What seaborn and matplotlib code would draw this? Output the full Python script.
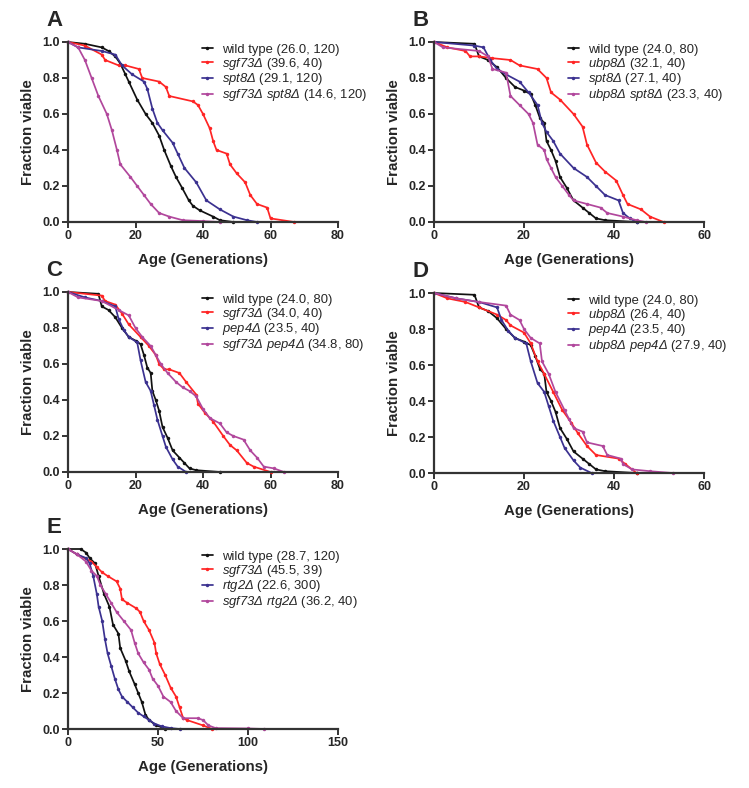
import matplotlib
matplotlib.use("Agg")
import matplotlib.pyplot as plt
import seaborn as sns

sns.set_style("ticks")
plt.rcParams["font.family"] = ["Liberation Sans", "DejaVu Sans"]
# gene names go through mathtext; make every math glyph italic
plt.rcParams["mathtext.fontset"] = "custom"
plt.rcParams["mathtext.rm"] = "Liberation Sans:italic"
plt.rcParams["mathtext.it"] = "Liberation Sans:italic"
plt.rcParams["mathtext.bf"] = "Liberation Sans:bold"

# --- colours of the four strains in each panel ---
col_wt = "#111111"
col_red = "#ff2424"
col_blue = "#3b3190"
col_purple = "#b1479c"

# --- panel A ---
a_wt_age = [0, 5, 10, 12, 14, 15.5, 17, 18, 20.5, 23, 25, 27, 28.5, 30.5, 32, 33.8, 35.8, 37, 39, 43, 45, 49]
a_wt_frac = [1.0, 0.99, 0.97, 0.95, 0.92, 0.88, 0.82, 0.78, 0.68, 0.60, 0.55, 0.48, 0.40, 0.31, 0.25, 0.19, 0.12, 0.09, 0.065, 0.03, 0.01, 0.0]
a_sgf_age = [0, 5, 10, 11, 15, 17, 21, 22, 27, 29, 30, 37, 38.5, 40, 42, 43, 44, 47, 48, 50, 52.5, 54, 56, 59, 60, 67]
a_sgf_frac = [1.0, 0.98, 0.93, 0.90, 0.87, 0.87, 0.85, 0.80, 0.78, 0.75, 0.70, 0.67, 0.65, 0.60, 0.52, 0.45, 0.40, 0.38, 0.32, 0.27, 0.22, 0.15, 0.10, 0.08, 0.02, 0.0]
a_spt_age = [0, 3, 10, 14, 16, 19, 22.5, 23.5, 25, 26.5, 28, 31, 32.5, 34.5, 38, 41, 45, 49, 53, 56]
a_spt_frac = [1.0, 0.97, 0.95, 0.93, 0.87, 0.82, 0.78, 0.74, 0.63, 0.55, 0.51, 0.44, 0.38, 0.30, 0.22, 0.12, 0.07, 0.03, 0.01, 0.0]
a_dbl_age = [0, 3, 5, 7, 9, 11.5, 13, 14.5, 15.5, 18.5, 20.5, 22.5, 24.5, 27, 30, 34, 40, 45]
a_dbl_frac = [1.0, 0.97, 0.90, 0.80, 0.70, 0.60, 0.51, 0.40, 0.32, 0.25, 0.20, 0.15, 0.10, 0.05, 0.03, 0.01, 0.005, 0.0]

# --- wild type (24.0, 80) and pep4 (23.5, 40), shared by B, C, D ---
wt80_age = [0, 9, 10, 12, 14, 16, 18, 20, 21.5, 22.5, 23.5, 24.5, 25, 26, 27, 28, 29.5, 31, 33, 34.5, 36, 38, 45]
wt80_frac = [1.0, 0.99, 0.92, 0.90, 0.86, 0.80, 0.75, 0.73, 0.71, 0.65, 0.58, 0.55, 0.45, 0.40, 0.34, 0.25, 0.19, 0.12, 0.08, 0.05, 0.02, 0.01, 0.0]
pep_age = [0, 5, 10, 14, 15, 16.5, 18, 20.5, 21.5, 23, 24.5, 25.5, 26.5, 28, 29, 31, 32.5, 35]
pep_frac = [1.0, 0.97, 0.95, 0.92, 0.85, 0.79, 0.75, 0.72, 0.62, 0.50, 0.45, 0.37, 0.29, 0.20, 0.14, 0.07, 0.03, 0.0]

# --- panel B ---
b_ubp_age = [0, 3, 7, 8, 10, 13, 17, 19, 23, 25, 26, 28, 31, 33, 34, 36, 38, 40.5, 42, 43, 46, 48, 51]
b_ubp_frac = [1.0, 0.97, 0.95, 0.92, 0.92, 0.91, 0.90, 0.87, 0.85, 0.80, 0.72, 0.68, 0.60, 0.53, 0.43, 0.33, 0.28, 0.23, 0.15, 0.10, 0.07, 0.03, 0.0]
b_spt_age = [0, 9, 11, 12.5, 14, 16, 19, 21, 23, 24, 25, 26.5, 28, 31, 34, 36, 38, 41, 42, 43.5, 45]
b_spt_frac = [1.0, 0.98, 0.97, 0.90, 0.85, 0.82, 0.78, 0.72, 0.65, 0.55, 0.50, 0.45, 0.38, 0.30, 0.25, 0.20, 0.15, 0.12, 0.05, 0.02, 0.0]
b_dbl_age = [0, 2, 10, 12, 13, 16, 17, 19, 21, 22, 23, 24.5, 25, 26, 27, 28.5, 30, 31, 34, 37, 38.5, 42, 45, 47]
b_dbl_frac = [1.0, 0.97, 0.95, 0.92, 0.85, 0.83, 0.70, 0.65, 0.60, 0.55, 0.43, 0.40, 0.35, 0.30, 0.25, 0.20, 0.15, 0.12, 0.10, 0.08, 0.05, 0.03, 0.01, 0.0]

# --- panel C ---
c_sgf_age = [0, 10, 11, 14, 16, 18, 21.5, 24, 26, 27, 28.5, 30, 33, 35, 38, 38.5, 40.5, 43, 46, 48, 50, 53, 55, 60]
c_sgf_frac = [1.0, 0.98, 0.95, 0.93, 0.88, 0.82, 0.75, 0.70, 0.65, 0.60, 0.57, 0.57, 0.55, 0.50, 0.43, 0.38, 0.33, 0.28, 0.20, 0.15, 0.12, 0.05, 0.03, 0.0]
c_dbl_age = [0, 3, 10, 15, 18, 20, 22, 24.5, 26, 27.5, 29.5, 32, 34, 36, 38, 40, 42, 45, 47, 49, 52, 54, 56, 58, 61, 64]
c_dbl_frac = [1.0, 0.97, 0.95, 0.90, 0.87, 0.80, 0.75, 0.70, 0.65, 0.60, 0.55, 0.50, 0.47, 0.45, 0.42, 0.35, 0.30, 0.27, 0.22, 0.20, 0.18, 0.12, 0.08, 0.03, 0.02, 0.0]

# --- panel D ---
d_ubp_age = [0, 3, 7, 10, 14, 16, 17, 20, 21.5, 23, 24.5, 26.5, 28.5, 30.5, 32, 34, 36, 41, 42.5, 45]
d_ubp_frac = [1.0, 0.97, 0.95, 0.92, 0.88, 0.85, 0.82, 0.78, 0.72, 0.62, 0.55, 0.45, 0.35, 0.28, 0.22, 0.15, 0.10, 0.08, 0.05, 0.0]
d_dbl_age = [0, 5, 10, 16, 17, 19, 20, 21.5, 23.5, 24, 25.5, 27, 29, 30, 31, 33, 34, 37.5, 38.5, 41.5, 42, 44, 48, 53]
d_dbl_frac = [1.0, 0.97, 0.95, 0.93, 0.88, 0.85, 0.80, 0.75, 0.72, 0.62, 0.55, 0.45, 0.35, 0.30, 0.25, 0.23, 0.17, 0.15, 0.10, 0.08, 0.05, 0.02, 0.01, 0.0]

# --- panel E ---
e_wt_age = [0, 7, 10, 12, 15, 17, 20, 23, 25, 28, 29, 32, 34, 37, 39, 41, 43, 45, 49, 52, 54]
e_wt_frac = [1.0, 1.0, 0.98, 0.95, 0.92, 0.85, 0.75, 0.68, 0.58, 0.53, 0.45, 0.38, 0.32, 0.25, 0.20, 0.15, 0.08, 0.05, 0.02, 0.01, 0.0]
e_sgf_age = [0, 5, 13, 16, 19, 22, 27, 29, 30, 33, 38, 40, 42, 45, 48, 49, 51, 54, 57, 60, 62, 64, 66, 75, 80]
e_sgf_frac = [1.0, 0.97, 0.93, 0.90, 0.87, 0.85, 0.82, 0.78, 0.72, 0.70, 0.67, 0.65, 0.60, 0.55, 0.48, 0.42, 0.36, 0.30, 0.23, 0.18, 0.12, 0.06, 0.05, 0.02, 0.0]
e_rtg_age = [0, 5, 10, 12, 14, 16, 17, 19, 20.5, 22, 24, 26, 28, 30, 33, 36, 39, 42, 45, 48, 52, 57, 62]
e_rtg_frac = [1.0, 0.97, 0.95, 0.92, 0.85, 0.75, 0.68, 0.60, 0.50, 0.42, 0.35, 0.28, 0.22, 0.18, 0.15, 0.12, 0.09, 0.07, 0.05, 0.03, 0.015, 0.005, 0.0]
e_dbl_age = [0, 5, 10, 13, 16, 18, 21, 24, 27, 31, 35, 37, 39, 42, 45, 47, 50, 53, 57, 60, 64, 72, 75, 78, 82, 100, 109]
e_dbl_frac = [1.0, 0.97, 0.93, 0.88, 0.85, 0.80, 0.75, 0.70, 0.65, 0.60, 0.55, 0.48, 0.42, 0.37, 0.33, 0.28, 0.24, 0.18, 0.15, 0.10, 0.06, 0.06, 0.05, 0.02, 0.005, 0.003, 0.0]

# legend labels (gene names italic)
a_labels = ["wild type (26.0, 120)", r"$\mathrm{sgf73Δ}$ (39.6, 40)",
            r"$\mathrm{spt8Δ}$ (29.1, 120)", r"$\mathrm{sgf73Δ\ spt8Δ}$ (14.6, 120)"]
b_labels = ["wild type (24.0, 80)", r"$\mathrm{ubp8Δ}$ (32.1, 40)",
            r"$\mathrm{spt8Δ}$ (27.1, 40)", r"$\mathrm{ubp8Δ\ spt8Δ}$ (23.3, 40)"]
c_labels = ["wild type (24.0, 80)", r"$\mathrm{sgf73Δ}$ (34.0, 40)",
            r"$\mathrm{pep4Δ}$ (23.5, 40)", r"$\mathrm{sgf73Δ\ pep4Δ}$ (34.8, 80)"]
d_labels = ["wild type (24.0, 80)", r"$\mathrm{ubp8Δ}$ (26.4, 40)",
            r"$\mathrm{pep4Δ}$ (23.5, 40)", r"$\mathrm{ubp8Δ\ pep4Δ}$ (27.9, 40)"]
e_labels = ["wild type (28.7, 120)", r"$\mathrm{sgf73Δ}$ (45.5, 39)",
            r"$\mathrm{rtg2Δ}$ (22.6, 300)", r"$\mathrm{sgf73Δ\ rtg2Δ}$ (36.2, 40)"]

panels = [
    ("A", [68, 42], 80, [(a_wt_age, a_wt_frac), (a_sgf_age, a_sgf_frac), (a_spt_age, a_spt_frac), (a_dbl_age, a_dbl_frac)], a_labels),
    ("B", [434, 42], 60, [(wt80_age, wt80_frac), (b_ubp_age, b_ubp_frac), (b_spt_age, b_spt_frac), (b_dbl_age, b_dbl_frac)], b_labels),
    ("C", [68, 292], 80, [(wt80_age, wt80_frac), (c_sgf_age, c_sgf_frac), (pep_age, pep_frac), (c_dbl_age, c_dbl_frac)], c_labels),
    ("D", [434, 293], 60, [(wt80_age, wt80_frac), (d_ubp_age, d_ubp_frac), (pep_age, pep_frac), (d_dbl_age, d_dbl_frac)], d_labels),
    ("E", [68, 549], 150, [(e_wt_age, e_wt_frac), (e_sgf_age, e_sgf_frac), (e_rtg_age, e_rtg_frac), (e_dbl_age, e_dbl_frac)], e_labels),
]
colors = [col_wt, col_red, col_blue, col_purple]

W, H = 749, 788
fig = plt.figure(figsize=(W / 100, H / 100), dpi=100)

for letter, (px, py), xmax, series, labels in panels:
    ax = fig.add_axes([px / W, 1 - (py + 180) / H, 270 / W, 180 / H])
    for (age, frac), c, lab in zip(series, colors, labels):
        sns.lineplot(x=age, y=frac, ax=ax, color=c, sort=False, estimator=None,
                     linewidth=1.25, marker="o", markersize=2.5, markeredgewidth=0,
                     label=lab)
    for ln in ax.lines:
        ln.set_clip_on(False)
    ax.set_xlim(0, xmax)
    ax.set_ylim(0, 1.0)
    ax.set_xticks(range(0, xmax + 1, 50 if xmax == 150 else 20))
    ax.set_yticks([0, 0.2, 0.4, 0.6, 0.8, 1.0])
    ax.set_yticklabels(["0.0", "0.2", "0.4", "0.6", "0.8", "1.0"])
    sns.despine(ax=ax)
    for s in ("left", "bottom"):
        ax.spines[s].set_linewidth(1.6)
        ax.spines[s].set_color("#333333")
    ax.tick_params(axis="both", length=4, width=1.4, color="#333333",
                   labelsize=9, pad=2)
    for t in ax.get_xticklabels() + ax.get_yticklabels():
        t.set_fontweight("bold")
    ax.set_xlabel("Age (Generations)", fontsize=10.8, fontweight="bold", labelpad=8)
    ax.set_ylabel("Fraction viable", fontsize=10.8, fontweight="bold", labelpad=5)
    ax.legend(loc="upper left", bbox_to_anchor=(0.495, 0.99), frameon=False,
              fontsize=9.4, handlelength=0.85, handletextpad=0.7,
              labelspacing=-0.02, borderpad=0, borderaxespad=0)
    fig.text((px - 22) / W, 1 - (py - 16) / H, letter, fontsize=16,
             fontweight="bold", va="baseline", ha="left")

fig.savefig("out.png", dpi=100)
